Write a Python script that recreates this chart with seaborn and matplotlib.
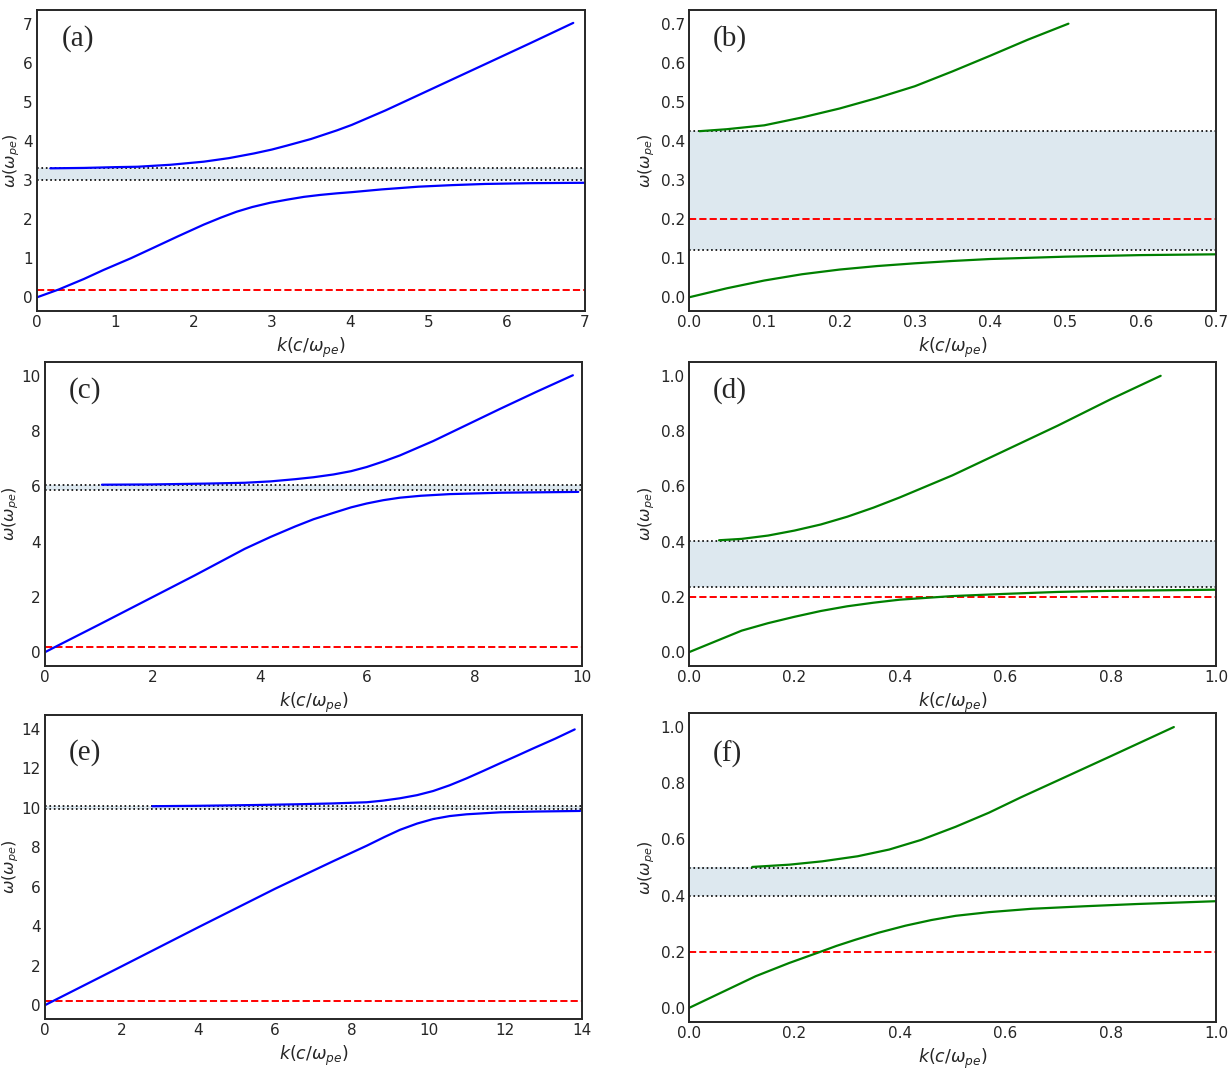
import numpy as np
import matplotlib
matplotlib.use('Agg')
import matplotlib.pyplot as plt
import seaborn as sns

sns.set_style('white')
plt.rcParams['font.family'] = ['DejaVu Sans']
plt.rcParams['mathtext.fontset'] = 'dejavusans'

#Values, one block per panel
#(a)
a_up_k = [0.17, 0.6, 1.0, 1.28, 1.7, 2.13, 2.45, 2.77, 3.0, 3.19, 3.5, 3.83, 4.02, 4.45, 4.87, 5.3, 5.72, 6.3, 6.85]
a_up_w = [3.30, 3.31, 3.33, 3.34, 3.39, 3.47, 3.56, 3.68, 3.78, 3.88, 4.05, 4.27, 4.41, 4.78, 5.17, 5.57, 5.96, 6.50, 7.02]
a_lo_k = [0.0, 0.277, 0.6, 0.85, 1.2, 1.49, 1.8, 2.13, 2.35, 2.55, 2.75, 2.98, 3.2, 3.41, 3.62, 3.83, 4.02, 4.4, 4.87, 5.3, 5.72, 6.3, 7.0]
a_lo_w = [0.0, 0.2, 0.47, 0.70, 1.0, 1.27, 1.56, 1.86, 2.04, 2.19, 2.31, 2.42, 2.50, 2.57, 2.62, 2.66, 2.69, 2.76, 2.83, 2.87, 2.90, 2.92, 2.93]
#(b)
b_up_k = [0.014, 0.05, 0.1, 0.15, 0.2, 0.25, 0.3, 0.35, 0.4, 0.45, 0.504]
b_up_w = [0.425, 0.43, 0.44, 0.46, 0.483, 0.51, 0.54, 0.578, 0.618, 0.659, 0.70]
b_lo_k = [0.0, 0.05, 0.1, 0.15, 0.2, 0.25, 0.3, 0.35, 0.4, 0.5, 0.6, 0.7]
b_lo_w = [0.0, 0.023, 0.043, 0.059, 0.071, 0.080, 0.087, 0.093, 0.098, 0.104, 0.108, 0.11]
#(c)
c_up_k = [1.06, 2.0, 3.0, 3.72, 4.2, 4.66, 5.0, 5.37, 5.7, 5.99, 6.3, 6.61, 6.92, 7.23, 7.85, 8.47, 9.15, 9.83]
c_up_w = [6.06, 6.07, 6.10, 6.13, 6.18, 6.26, 6.33, 6.43, 6.55, 6.70, 6.90, 7.12, 7.38, 7.64, 8.22, 8.80, 9.42, 10.02]
c_lo_k = [0.0, 0.2, 1.0, 2.0, 2.79, 3.72, 4.2, 4.66, 5.0, 5.37, 5.7, 5.99, 6.3, 6.61, 7.0, 7.54, 8.5, 9.93]
c_lo_w = [0.0, 0.2, 0.99, 1.99, 2.78, 3.74, 4.17, 4.55, 4.81, 5.04, 5.24, 5.38, 5.50, 5.59, 5.66, 5.72, 5.77, 5.80]
#(d)
d_up_k = [0.057, 0.1, 0.15, 0.2, 0.25, 0.3, 0.35, 0.4, 0.5, 0.6, 0.7, 0.8, 0.895]
d_up_w = [0.405, 0.41, 0.422, 0.44, 0.462, 0.49, 0.523, 0.56, 0.64, 0.73, 0.82, 0.915, 1.0]
d_lo_k = [0.0, 0.1, 0.15, 0.2, 0.25, 0.3, 0.35, 0.4, 0.5, 0.6, 0.7, 0.8, 1.0]
d_lo_w = [0.0, 0.078, 0.105, 0.128, 0.149, 0.166, 0.179, 0.19, 0.203, 0.211, 0.218, 0.222, 0.226]
#(e)
e_up_k = [2.8, 4.0, 5.5, 6.65, 7.5, 8.39, 8.8, 9.25, 9.7, 10.12, 10.55, 10.99, 11.43, 11.86, 12.3, 12.73, 13.3, 13.81]
e_up_w = [10.08, 10.10, 10.14, 10.18, 10.22, 10.28, 10.36, 10.48, 10.64, 10.85, 11.14, 11.49, 11.87, 12.25, 12.63, 13.01, 13.50, 13.97]
e_lo_k = [0.0, 0.2, 2.0, 4.0, 6.0, 6.65, 7.52, 8.39, 8.85, 9.25, 9.7, 10.12, 10.55, 10.99, 11.86, 12.8, 13.95]
e_lo_w = [0.0, 0.2, 1.97, 3.95, 5.90, 6.50, 7.30, 8.08, 8.52, 8.88, 9.20, 9.43, 9.58, 9.67, 9.77, 9.81, 9.84]
#(f)
f_up_k = [0.12, 0.19, 0.253, 0.32, 0.38, 0.44, 0.506, 0.569, 0.63, 0.7, 0.8, 0.92]
f_up_w = [0.502, 0.51, 0.522, 0.54, 0.564, 0.598, 0.645, 0.695, 0.75, 0.81, 0.896, 1.0]
f_lo_k = [0.0, 0.1265, 0.19, 0.2435, 0.28, 0.316, 0.36, 0.411, 0.46, 0.506, 0.569, 0.65, 0.75, 0.85, 1.0]
f_lo_w = [0.0, 0.113, 0.16, 0.196, 0.221, 0.243, 0.268, 0.293, 0.313, 0.328, 0.341, 0.353, 0.362, 0.37, 0.38]

#Band gaps (lower, upper) and the red reference line
gaps = [(2.99, 3.3), (0.12, 0.425), (5.87, 6.04), (0.236, 0.401), (9.95, 10.1), (0.4, 0.5)]
omega_ref = 0.2

labels = ['(a)', '(b)', '(c)', '(d)', '(e)', '(f)']
curves = [(a_up_k, a_up_w, a_lo_k, a_lo_w), (b_up_k, b_up_w, b_lo_k, b_lo_w),
          (c_up_k, c_up_w, c_lo_k, c_lo_w), (d_up_k, d_up_w, d_lo_k, d_lo_w),
          (e_up_k, e_up_w, e_lo_k, e_lo_w), (f_up_k, f_up_w, f_lo_k, f_lo_w)]
colors = ['blue', 'green', 'blue', 'green', 'blue', 'green']
xlims = [(0, 7), (0, 0.7), (0, 10), (0, 1), (0, 14), (0, 1)]
ylims = [(-0.35, 7.35), (-0.035, 0.735), (-0.5, 10.5), (-0.05, 1.05), (-0.7, 14.7), (-0.05, 1.05)]
xticks = [np.arange(0, 8, 1), np.arange(0, 0.71, 0.1), np.arange(0, 11, 2),
          np.arange(0, 1.01, 0.2), np.arange(0, 15, 2), np.arange(0, 1.01, 0.2)]
label_y = [0.95, 0.95, 0.95, 0.95, 0.92, 0.91]

#Panel boxes in pixels: left, top, right, bottom; ylabel right edge in pixels
W, H = 1230, 1069
boxes = [(37, 10, 585, 311), (689, 10, 1216, 311),
         (45, 362, 582, 666), (689, 362, 1216, 666),
         (45, 715, 582, 1019), (689, 713, 1216, 1022)]
ylab_x = [22, 657, 21, 657, 21, 657]

fig = plt.figure(figsize=(W/100, H/100), dpi=100)
for i in range(6):
    l, t, r, b = boxes[i]
    ax = fig.add_axes([l/W, 1-b/H, (r-l)/W, (b-t)/H])
    lo, hi = gaps[i]
    ax.axhspan(lo, hi, color='#dde8ef', lw=0)
    ax.axhline(lo, color='k', ls=':', lw=1.2)
    ax.axhline(hi, color='k', ls=':', lw=1.2)
    ax.axhline(omega_ref, color='red', ls='--', lw=1.4)
    up_k, up_w, lo_k, lo_w = curves[i]
    sns.lineplot(x=up_k, y=up_w, ax=ax, color=colors[i], lw=1.6)
    sns.lineplot(x=lo_k, y=lo_w, ax=ax, color=colors[i], lw=1.6)
    ax.set_xlim(xlims[i])
    ax.set_ylim(ylims[i])
    ax.set_xticks(xticks[i])
    ax.set_yticks(xticks[i])
    ax.tick_params(labelsize=11, length=0, pad=3)
    ax.set_xlabel(r'$k(c/\omega_{pe})$', fontsize=12.5, labelpad=4)
    ax.set_ylabel(r'$\omega(\omega_{pe})$', fontsize=11.5)
    ax.yaxis.set_label_coords((ylab_x[i] - l)/(r - l), 0.5)
    ax.text(0.045, label_y[i], labels[i], transform=ax.transAxes, ha='left', va='top',
            fontsize=21, family='Liberation Serif')
    for s in ax.spines.values():
        s.set_color('0.15')
        s.set_linewidth(1.4)

plt.savefig('out.png', dpi=100)
